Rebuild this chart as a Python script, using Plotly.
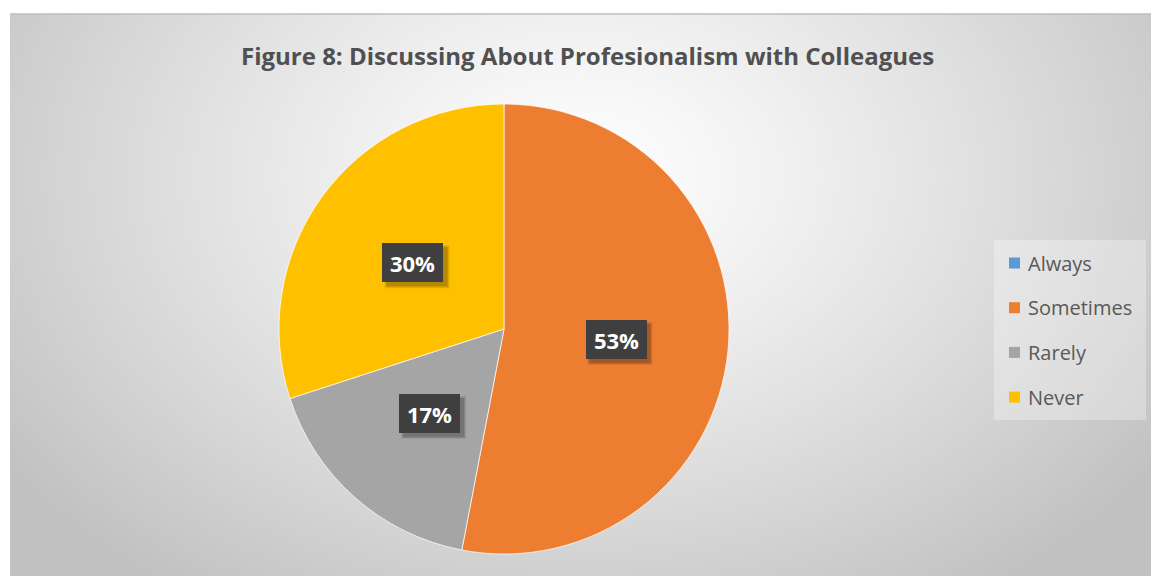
import base64
import math
import struct
import zlib

import numpy as np
import plotly.graph_objects as go

# ---- data -------------------------------------------------------------
categories = ["Always", "Sometimes", "Rarely", "Never"]
shares = [0, 53, 17, 30]
slice_colors = ["#5B9BD5", "#ED7D31", "#A5A5A5", "#FFC000"]
title_text = "Figure 8: Discussing About Profesionalism with Colleagues"

# ---- canvas -----------------------------------------------------------
W, H = 1151, 576
AREA_X0, AREA_Y0 = 10, 14          # chart area starts here (pixels)
PIE_CX, PIE_CY, PIE_R = 504, 329, 225
BOX_W, BOX_H = 61, 39              # call-out box size (pixels)


def gradient_png(w, h):
    """Radial white-to-grey backdrop encoded as a grayscale PNG data URI."""
    yy, xx = np.mgrid[0:h, 0:w].astype(float)
    cx, cy = 580 - AREA_X0, 175 - AREA_Y0
    d = np.sqrt(((xx - cx) / 710.0) ** 2 + ((yy - cy) / 510.0) ** 2)
    d = np.clip(d, 0, 1)
    g = 255 - 62 * d ** 1.2
    g = np.clip(g, 0, 255).astype(np.uint8)
    raw = b"".join(b"\x00" + g[r].tobytes() for r in range(h))

    def chunk(tag, data):
        c = struct.pack(">I", len(data)) + tag + data
        return c + struct.pack(">I", zlib.crc32(tag + data) & 0xFFFFFFFF)

    png = b"\x89PNG\r\n\x1a\n"
    png += chunk(b"IHDR", struct.pack(">IIBBBBB", w, h, 8, 0, 0, 0, 0))
    png += chunk(b"IDAT", zlib.compress(raw, 9))
    png += chunk(b"IEND", b"")
    return "data:image/png;base64," + base64.b64encode(png).decode()


def px_rect(x0, y0, x1, y1, **kw):
    """Rectangle shape given in pixel coordinates (top-left origin)."""
    return dict(type="rect", xref="paper", yref="paper",
                x0=x0 / W, x1=x1 / W, y0=1 - y1 / H, y1=1 - y0 / H, **kw)


fig = go.Figure()

fig.add_trace(go.Pie(
    labels=categories,
    values=shares,
    marker=dict(colors=slice_colors, line=dict(color="rgba(255,255,255,0.7)", width=1)),
    sort=False,
    direction="clockwise",
    rotation=0,
    textinfo="none",
    hoverinfo="label+percent",
    showlegend=False,
    domain=dict(
        x=[(PIE_CX - PIE_R) / W, (PIE_CX + PIE_R) / W],
        y=[1 - (PIE_CY + PIE_R) / H, 1 - (PIE_CY - PIE_R) / H],
    ),
))

annotations = []
shapes = []

# percentage call-outs: dark boxes half-way out along each slice's mid angle
total = sum(shares)
start = 0.0
for cat, val in zip(categories, shares):
    sweep = 360.0 * val / total
    if val > 0:
        mid = math.radians(start + sweep / 2)
        px = PIE_CX + 0.5 * PIE_R * math.sin(mid)
        py = PIE_CY - 0.5 * PIE_R * math.cos(mid)
        # soft drop shadow behind the box (layered for a blurred edge)
        for grow, alpha in ((2, 0.08), (1, 0.10), (0, 0.14)):
            shapes.append(px_rect(px - BOX_W / 2 + 4 - grow, py - BOX_H / 2 + 4 - grow,
                                  px + BOX_W / 2 + 4 + grow, py + BOX_H / 2 + 4 + grow,
                                  fillcolor=f"rgba(0,0,0,{alpha})", line=dict(width=0)))
        annotations.append(dict(xref="paper", yref="paper", x=px / W, y=1 - py / H,
                                xanchor="center", yanchor="middle",
                                text=f"<b>{round(100 * val / total)}%</b>",
                                showarrow=False, width=BOX_W, height=BOX_H,
                                borderpad=0, borderwidth=0, bgcolor="#3F3F3F",
                                font=dict(family="Open Sans", size=22, color="white")))
    start += sweep

# legend panel
shapes.append(px_rect(994, 240, 1146, 420, fillcolor="rgba(255,255,255,0.3)",
                      line=dict(width=0), layer="below"))
for i, (cat, col) in enumerate(zip(categories, slice_colors)):
    ry = 263 + 44.7 * i
    shapes.append(px_rect(1009, ry - 5.5, 1020, ry + 5.5, fillcolor=col, line=dict(width=0)))
    annotations.append(dict(xref="paper", yref="paper", x=1026 / W, y=1 - ry / H,
                            xanchor="left", yanchor="middle", text=cat, showarrow=False,
                            font=dict(family="Open Sans", size=20, color="#595959")))

# thin darker top edge of the chart area
shapes.append(dict(type="line", xref="paper", yref="paper",
                   x0=AREA_X0 / W, x1=1, y0=1 - AREA_Y0 / H, y1=1 - AREA_Y0 / H,
                   line=dict(color="#BEBEBE", width=1.5), layer="below"))

# title
annotations.append(dict(xref="paper", yref="paper", x=587 / W, y=1 - 56 / H,
                        xanchor="center", yanchor="middle", showarrow=False,
                        text=f"<b>{title_text}</b>",
                        font=dict(family="Open Sans", size=24, color="#505050")))

fig.update_layout(
    width=W, height=H,
    margin=dict(l=0, r=0, t=0, b=0),
    paper_bgcolor="white",
    plot_bgcolor="rgba(0,0,0,0)",
    annotations=annotations,
    shapes=shapes,
    images=[dict(source=gradient_png(W - AREA_X0, H - AREA_Y0),
                 xref="paper", yref="paper",
                 x=AREA_X0 / W, y=1 - AREA_Y0 / H,
                 sizex=(W - AREA_X0) / W, sizey=(H - AREA_Y0) / H,
                 xanchor="left", yanchor="top", sizing="stretch", layer="below")],
)

fig.write_html("out.html")
